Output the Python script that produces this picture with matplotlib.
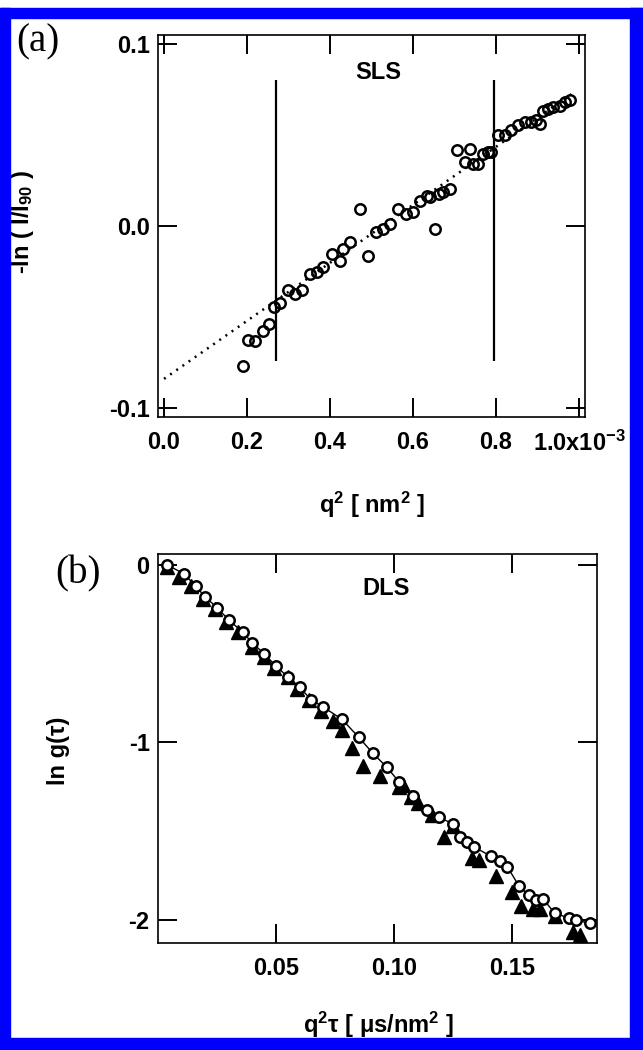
import matplotlib
matplotlib.use("Agg")
import numpy as np
import matplotlib.pyplot as plt
from matplotlib.patches import Rectangle

plt.rcParams['font.family'] = ['Liberation Sans', 'DejaVu Sans']
plt.rcParams['font.weight'] = 'bold'
plt.rcParams['axes.unicode_minus'] = False
plt.rcParams['mathtext.fontset'] = 'custom'
plt.rcParams['mathtext.rm'] = 'Liberation Sans:bold'
plt.rcParams['mathtext.bf'] = 'Liberation Sans:bold'
plt.rcParams['mathtext.default'] = 'bf'

# (a) SLS: q^2 in units of 1e-3 nm^-2, -ln(I/I90)
sls_q2 = [0.191, 0.203, 0.219, 0.238, 0.254, 0.264, 0.280, 0.299, 0.315, 0.332,
          0.352, 0.368, 0.384, 0.404, 0.424, 0.432, 0.448, 0.472, 0.492, 0.512,
          0.528, 0.544, 0.564, 0.584, 0.600, 0.617, 0.633, 0.641, 0.653, 0.662,
          0.673, 0.689, 0.705, 0.725, 0.737, 0.745, 0.757, 0.769, 0.781, 0.789,
          0.805, 0.821, 0.837, 0.853, 0.869, 0.885, 0.896, 0.906, 0.914, 0.926,
          0.938, 0.954, 0.966, 0.978]
sls_val = [-0.0765, -0.0625, -0.0629, -0.0576, -0.0537, -0.0442, -0.0424, -0.0353, -0.0371, -0.0353,
           -0.0262, -0.0254, -0.0226, -0.0153, -0.0190, -0.0126, -0.0089, 0.0093, -0.0163, -0.0035,
           -0.0018, 0.0009, 0.0093, 0.0066, 0.0075, 0.0139, 0.0166, 0.0159, -0.0018, 0.0177,
           0.0186, 0.0204, 0.0415, 0.0352, 0.0424, 0.0338, 0.0342, 0.0397, 0.0405, 0.0406,
           0.0497, 0.0497, 0.0524, 0.0552, 0.0570, 0.0570, 0.0580, 0.0559, 0.0630, 0.0640,
           0.0650, 0.0660, 0.0680, 0.0690]
sls_fit_intercept = -0.0838
sls_fit_slope = 0.159
sls_fit_range = [0.0, 0.99]
sls_bounds = [0.27, 0.795]
sls_xticks = [0.0, 0.2, 0.4, 0.6, 0.8, 1.0]
sls_xticklabels = ['0.0', '0.2', '0.4', '0.6', '0.8', '1.0x10$^{-3}$']
sls_yticks = [-0.1, 0.0, 0.1]
sls_yticklabels = ['-0.1', '0.0', '0.1']

# (b) DLS: q^2 tau [us/nm^2], ln g(tau)
dls_circ_x = [0.004, 0.011, 0.016, 0.020, 0.025, 0.030, 0.036, 0.040, 0.045, 0.050,
              0.055, 0.060, 0.065, 0.070, 0.078, 0.085, 0.091, 0.097, 0.102, 0.108,
              0.114, 0.119, 0.125, 0.128, 0.131, 0.134, 0.141, 0.145, 0.148, 0.153,
              0.157, 0.160, 0.163, 0.168, 0.174, 0.177, 0.183]
dls_circ_y = [0.00, -0.05, -0.12, -0.18, -0.24, -0.31, -0.38, -0.44, -0.50, -0.57,
              -0.63, -0.69, -0.76, -0.80, -0.87, -0.97, -1.06, -1.14, -1.22, -1.30,
              -1.38, -1.42, -1.46, -1.53, -1.56, -1.59, -1.64, -1.67, -1.70, -1.81,
              -1.86, -1.89, -1.88, -1.96, -1.99, -2.00, -2.02]
dls_tri_x = [0.004, 0.009, 0.014, 0.019, 0.024, 0.029, 0.034, 0.040, 0.045, 0.049,
             0.055, 0.059, 0.064, 0.069, 0.074, 0.078, 0.082, 0.087, 0.094, 0.102,
             0.104, 0.107, 0.110, 0.116, 0.121, 0.125, 0.133, 0.136, 0.143, 0.150,
             0.154, 0.159, 0.162, 0.168, 0.176, 0.179]
dls_tri_y = [-0.01, -0.07, -0.12, -0.19, -0.25, -0.32, -0.38, -0.46, -0.52, -0.58,
             -0.63, -0.70, -0.76, -0.82, -0.88, -0.93, -1.03, -1.13, -1.19, -1.25,
             -1.24, -1.31, -1.34, -1.41, -1.53, -1.47, -1.65, -1.66, -1.75, -1.84,
             -1.92, -1.94, -1.94, -1.98, -2.07, -2.085]
dls_xticks = [0.05, 0.10, 0.15]
dls_xticklabels = ['0.05', '0.10', '0.15']
dls_yticks = [-2, -1, 0]
dls_yticklabels = ['-2', '-1', '0']

W, H = 643, 1050
fig = plt.figure(figsize=(W / 100, H / 100), dpi=100)

def px_axes(l, t, r, b):
    return fig.add_axes([l / W, 1 - b / H, (r - l) / W, (b - t) / H])

def style(ax):
    for s in ax.spines.values():
        s.set_linewidth(1.2)
    ax.tick_params(direction='in', length=14, width=1.4, top=True, right=True,
                   labelsize=17)
    ax.tick_params(axis='x', pad=10)
    ax.tick_params(axis='y', pad=6)

# panel (a)
ax1 = px_axes(158, 35, 585, 417)
style(ax1)
fx = np.array(sls_fit_range)
ax1.plot(fx, sls_fit_intercept + sls_fit_slope * fx, color='black', lw=1.8,
         linestyle=(0, (0.8, 2.2)))
ax1.vlines(sls_bounds, -0.074, 0.080, color='black', lw=1.6)
ax1.plot(sls_q2, sls_val, 'o', mfc='none', mec='black', mew=1.8, ms=7.5)
ax1.set_xlim(-0.0145, 1.0145)
ax1.set_ylim(-0.1047, 0.1047)
ax1.set_xticks(sls_xticks)
ax1.set_xticklabels(sls_xticklabels)
ax1.set_yticks(sls_yticks)
ax1.set_yticklabels(sls_yticklabels)
ax1.text(0.516, 0.0844, 'SLS', ha='center', va='center', fontsize=17, fontweight='bold')

# panel (b)
ax2 = px_axes(158, 554, 597, 943)
style(ax2)
ax2.plot(dls_tri_x, dls_tri_y, '^', color='black', ms=10)
ax2.plot(dls_circ_x, dls_circ_y, '-o', color='black', lw=1.0,
         mfc='white', mec='black', mew=1.8, ms=7.5)
ax2.set_xlim(0.0, 0.186)
ax2.set_ylim(-2.13, 0.062)
ax2.set_xticks(dls_xticks)
ax2.set_xticklabels(dls_xticklabels)
ax2.set_yticks(dls_yticks)
ax2.set_yticklabels(dls_yticklabels)
ax2.text(0.0968, -0.13, 'DLS', ha='center', va='center', fontsize=17, fontweight='bold')

def ftext(x, y, s, **kw):
    fig.text(x / W, 1 - y / H, s, ha='center', va='center', **kw)

ftext(38, 42, '(a)', family='Liberation Serif', fontweight='normal', fontsize=28)
ftext(78, 574, '(b)', family='Liberation Serif', fontweight='normal', fontsize=28)
ftext(22, 222, '-ln ( I/I$_{90}$ )', rotation=90, fontsize=17)
ftext(372, 505, 'q$^2$ [ nm$^2$ ]', fontsize=17)
ftext(59, 751, 'ln g(τ)', rotation=90, fontsize=17)
ftext(378, 1025, 'q$^2$τ [ μs/nm$^2$ ]', fontsize=17)

# blue frame
blue = '#0000ff'
for (l, t, r, b) in [(0, 8, W, 18), (0, 1038, W, H), (0, 8, 10, H), (630, 8, W, H)]:
    fig.patches.append(Rectangle((l / W, 1 - b / H), (r - l) / W, (b - t) / H,
                                 transform=fig.transFigure, color=blue, zorder=10))

fig.savefig('out.png', dpi=100, facecolor='white')
